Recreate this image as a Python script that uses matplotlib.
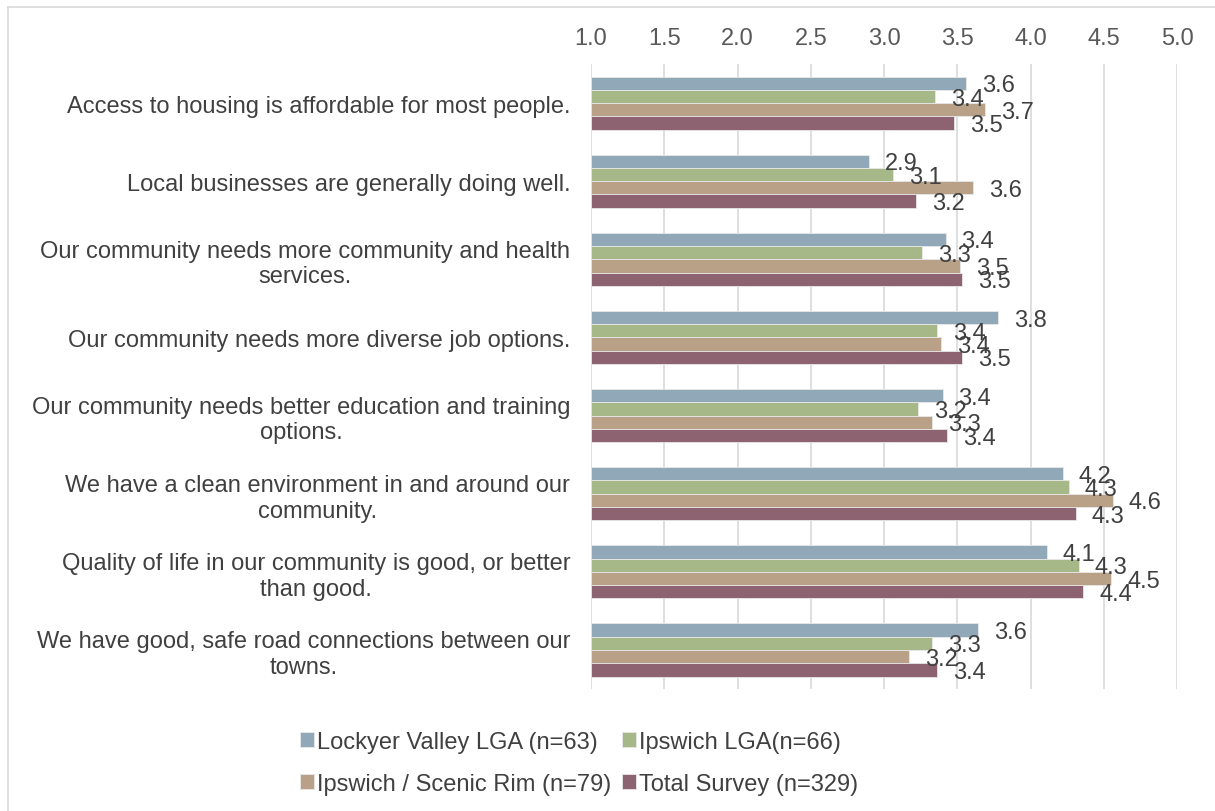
import matplotlib.pyplot as plt
import numpy as np
from matplotlib.lines import Line2D

plt.rcParams['font.family'] = ['Liberation Sans', 'DejaVu Sans']

statements = [
    "Access to housing is affordable for most people.",
    "Local businesses are generally doing well.",
    "Our community needs more community and health\nservices.",
    "Our community needs more diverse job options.",
    "Our community needs better education and training\noptions.",
    "We have a clean environment in and around our\ncommunity.",
    "Quality of life in our community is good, or better\nthan good.",
    "We have good, safe road connections between our\ntowns.",
]

series_names = [
    "Lockyer Valley LGA (n=63)",
    "Ipswich LGA(n=66)",
    "Ipswich / Scenic Rim (n=79)",
    "Total Survey (n=329)",
]

lockyer = [3.56, 2.90, 3.42, 3.78, 3.40, 4.22, 4.11, 3.64]
ipswich = [3.35, 3.06, 3.26, 3.36, 3.23, 4.26, 4.33, 3.33]
scenic_rim = [3.69, 3.61, 3.52, 3.39, 3.33, 4.56, 4.55, 3.17]
total = [3.48, 3.22, 3.53, 3.53, 3.43, 4.31, 4.36, 3.36]

colors = ["#91A8B9", "#A7B888", "#B9A187", "#8D6271"]
text_col = "#404040"
fs = 17

fig = plt.figure(figsize=(12.15, 8.12), dpi=100)
ax = fig.add_axes([591 / 1215, 1 - 690 / 812, 586 / 1215, 625 / 812])

y = np.arange(len(statements))
h = 0.17
bars = []
for i, (vals, c) in enumerate(zip([lockyer, ipswich, scenic_rim, total], colors)):
    pos = y + (i - 1.5) * h
    b = ax.barh(pos, np.array(vals) - 1.0, left=1.0, height=h, color=c,
                edgecolor="#E8E8E8", linewidth=0.6, label=series_names[i], zorder=3)
    bars.append(b)
    for p, v in zip(pos, vals):
        ax.annotate(f"{v:.1f}", (v, p), xytext=(11.5, -1.5), textcoords="offset points",
                    ha="left", va="center", fontsize=fs, color=text_col, zorder=4)

ax.set_xlim(1.0, 5.0)
ax.set_ylim(len(statements) - 0.5, -0.5)
ax.set_xticks(np.arange(1.0, 5.01, 0.5))
ax.set_xticklabels([f"{t:.1f}" for t in np.arange(1.0, 5.01, 0.5)])
ax.xaxis.tick_top()
ax.tick_params(axis="x", length=0, pad=11, labelsize=fs, labelcolor="#595959")
ax.set_yticks(y)
ax.set_yticklabels(statements, fontsize=fs, color=text_col, multialignment="center")
ax.tick_params(axis="y", length=0, pad=15)
ax.grid(axis="x", color="#D9D9D9", linewidth=1.2, zorder=0)
for s in ax.spines.values():
    s.set_visible(False)

# legend laid out row by row: Lockyer / Ipswich, then Scenic Rim / Total
handles = [bars[0], bars[2], bars[1], bars[3]]
labels = [series_names[0], series_names[2], series_names[1], series_names[3]]
fig.legend(handles, labels, ncol=2, loc="center", bbox_to_anchor=(579 / 1215, 1 - 764 / 812),
           frameon=False, fontsize=fs, handlelength=0.6, handleheight=0.6,
           handletextpad=0.12, columnspacing=0.45, labelspacing=0.85, labelcolor=text_col)

# chart frame
fig.add_artist(Line2D([8 / 1215, 8 / 1215], [0, 1 - 8 / 812], color="#D9D9D9", lw=1.2))
fig.add_artist(Line2D([8 / 1215, 1], [1 - 8 / 812, 1 - 8 / 812], color="#D9D9D9", lw=1.2))

fig.savefig("out.png", dpi=100)
